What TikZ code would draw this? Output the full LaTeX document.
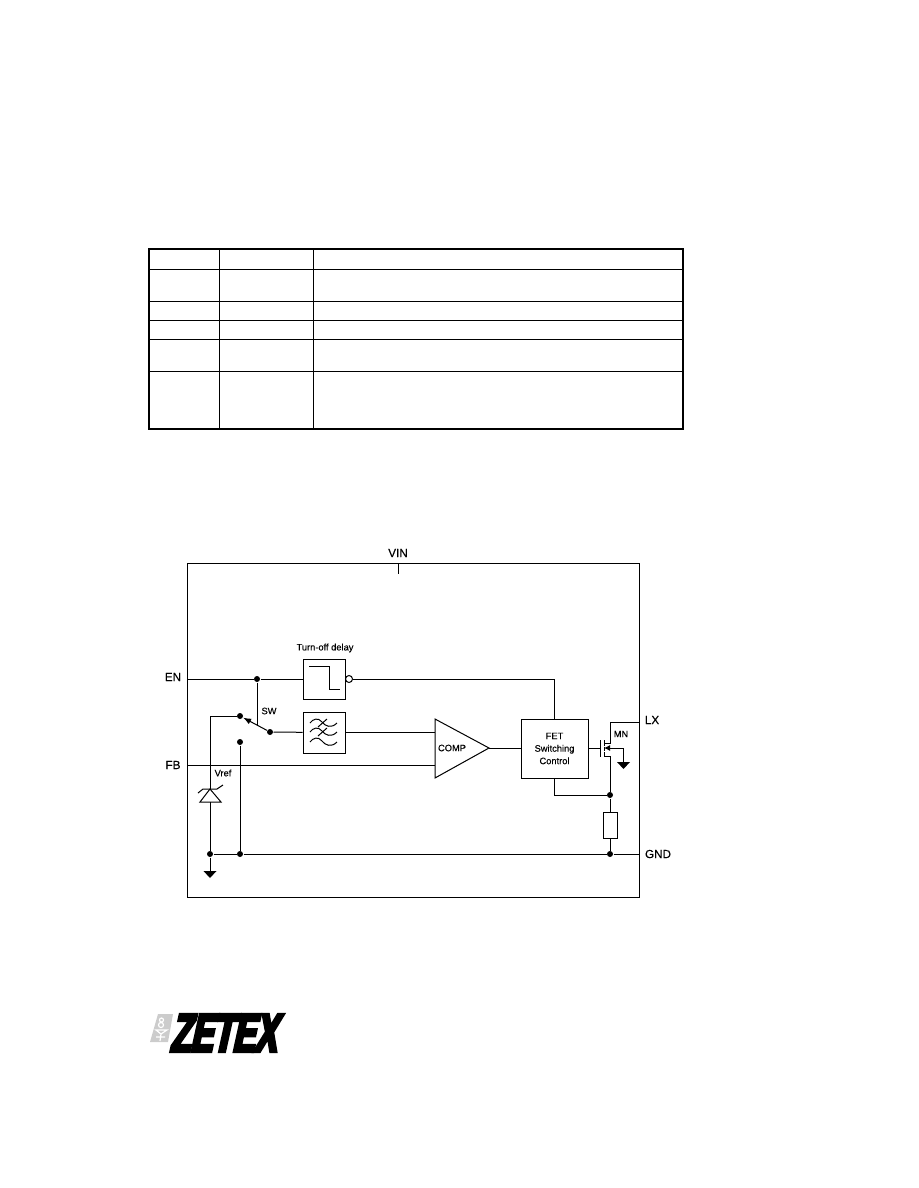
\documentclass[tikz,border=0pt]{standalone}
\usepackage{fontspec}
\setmainfont[FakeBold=0.3]{Liberation Sans}
\newfontfamily\logofont[FakeBold=6,FakeSlant=0.22,FakeStretch=0.61]{Liberation Sans Bold}
\usetikzlibrary{arrows.meta}

\begin{document}
\begin{tikzpicture}[x=1pt, y=-1pt, line width=1pt, line join=miter,
        every node/.append style={inner sep=0pt}]
      \tikzstyle{block} = [draw, rectangle, fill=white]
      \tikzstyle{dot} = [circle, fill=black, minimum size=6pt]
      \tikzstyle{pin} = [font=\fontsize{11.7}{13}\selectfont]
      \tikzstyle{small} = [font=\fontsize{9.3}{12.5}\selectfont, align=center]
      \tikzstyle{earth} = [fill=black, draw=none]
      \useasboundingbox (0,0) rectangle (918,1188);
      % table
      \foreach \row in {269,301,320,339,371} \draw (149,\row) -- (683,\row);
      \foreach \col in {219,313} \draw (\col,249) -- (\col,429);
      \draw[line width=2pt] (149,249) rectangle (683,429);
      % outline and pins
      \node (chip) [draw, rectangle, minimum width=451.5pt, minimum height=334pt] at (413.25,730) {};
      \node (VIN) [pin] at (398,553) {VIN};
      \node (EN) [pin] at (173,677) {EN};
      \node (FB) [pin] at (173,765) {FB};
      \node (LX) [pin] at (652,720) {LX};
      \node (GND) [pin] at (658,854) {GND};
      \coordinate (vinin) at (398,563);
      \coordinate (vintick) at (398,574);
      \coordinate (enin) at (188,679);
      \coordinate (fbin) at (188,765);
      \coordinate (lxin) at (639,722);
      \coordinate (gndin) at (639,854);
      \draw (vinin) -- (vintick);
      % blocks
      \node (delay) [block, minimum width=42pt, minimum height=40pt] at (324,679) {};
      \node (delaytext) [small] at (325,648) {Turn-off delay};
      \node (bubble) [draw, circle, minimum size=7pt] at (349,679) {};
      \node (filter) [block, minimum width=42pt, minimum height=41pt] at (324,732.5) {};
      \node (fet) [block, minimum width=67pt, minimum height=59pt, small] at (554.5,748.5) {FET\\Switching\\Control};
      \draw (309,666) -- (329,666) -- (329,689) -- (340,689);
      \foreach \wave in {723,732,742}
        \draw (310,\wave) .. controls (313,\wave-4) and (318,\wave-6) .. (322,\wave-1) .. controls (325,\wave+3) and (331,\wave+6) .. (337,\wave);
      \foreach \wave in {723,732}
        \draw (318,\wave+4) -- (327,\wave-4);
      % comparator
      \coordinate (comptop) at (435,719);
      \coordinate (compbot) at (435,778);
      \coordinate (compout) at (489,748);
      \coordinate (compplus) at (435,732);
      \coordinate (compminus) at (435,765);
      \draw (comptop) -- (compout) -- (compbot) -- cycle;
      \node (comp) [small] at (452,748) {COMP};
      % switch and junctions
      \node (enjoin) [dot] at (257,679) {};
      \node (swtop) [dot] at (240,716) {};
      \node (swlow) [dot] at (240,742) {};
      \node (swpole) [dot] at (270,732) {};
      \node (swlabel) [small] at (269,711) {SW};
      \node (vrefjoin) [dot] at (210,854) {};
      \node (lowjoin) [dot] at (240,854) {};
      \node (gndjoin) [dot] at (610,854) {};
      \node (srcjoin) [dot] at (610,795) {};
      \coordinate (armmid) at (257,725);
      \draw (enin) -- (enjoin) -- (delay);
      \draw (bubble) -- (554,679) -- (554,719);
      \draw (enjoin) -- (armmid);
      \draw[-{Latex[length=8pt,width=6pt]}] (swpole) -- (swtop);
      \draw (swpole) -- (filter);
      \draw (345,732) -- (compplus);
      \draw (fbin) -- (compminus);
      \draw (compout) -- (521,748);
      \draw (swlow) -- (lowjoin);
      \draw (vrefjoin) -- (lowjoin) -- (gndjoin) -- (gndin);
      % zener
      \coordinate (zenapex) at (210,789);
      \node (vref) [small] at (223,773) {Vref};
      \draw (swtop) -- (210,716) -- (zenapex);
      \draw (zenapex) -- (200,802) -- (221,802) -- cycle;
      \draw (198,793) -- (203,789) -- (217,789) -- (223,785);
      \draw (210,802) -- (vrefjoin);
      \coordinate (vrefgnd) at (210,871);
      \draw (vrefjoin) -- (vrefgnd);
      \path[earth] (203.5,871) -- (216.5,871) -- (210,878) -- cycle;
      % mosfet
      \coordinate (gate) at (600,748);
      \coordinate (drain) at (604,743);
      \coordinate (source) at (604,756);
      \coordinate (body) at (604,748);
      \node (MN) [small] at (621,734) {MN};
      \draw (588,748) -- (gate);
      \draw (600,740) -- (600,757);
      \draw (604,740) -- (604,745.5) (604,746.5) -- (604,751) (604,752) -- (604,757);
      \draw (drain) -- (610,743) -- (610,722) -- (lxin);
      \draw (source) -- (610,756) -- (srcjoin);
      \draw[{Latex[length=6pt,width=6pt]}-] (body) -- (623,748) -- (623,762);
      \path[earth] (617,762) -- (630,762) -- (623.5,769) -- cycle;
      \draw (554,778) -- (554,795) -- (srcjoin);
      % sense resistor
      \node (rsense) [block, minimum width=14pt, minimum height=26pt] at (610,825) {};
      \draw (srcjoin) -- (rsense);
      \draw (rsense) -- (gndjoin);
      % logo
      \path[fill=black!20] (158,1014) -- (173,1014) -- (168,1042) -- (150,1042) -- cycle;
      \draw[white, line width=1.2pt] (161.5,1020) circle (2) (161,1025) circle (2.5);
      \draw[white, line width=1.2pt] (156,1030) -- (167,1030) -- (161,1034) -- cycle (161,1034) -- (160,1041) (156,1037) -- (165,1037);
      \node (zetex) at (223,1033) {\logofont\fontsize{54}{54}\selectfont ZETEX};
    \end{tikzpicture}
\end{document}
